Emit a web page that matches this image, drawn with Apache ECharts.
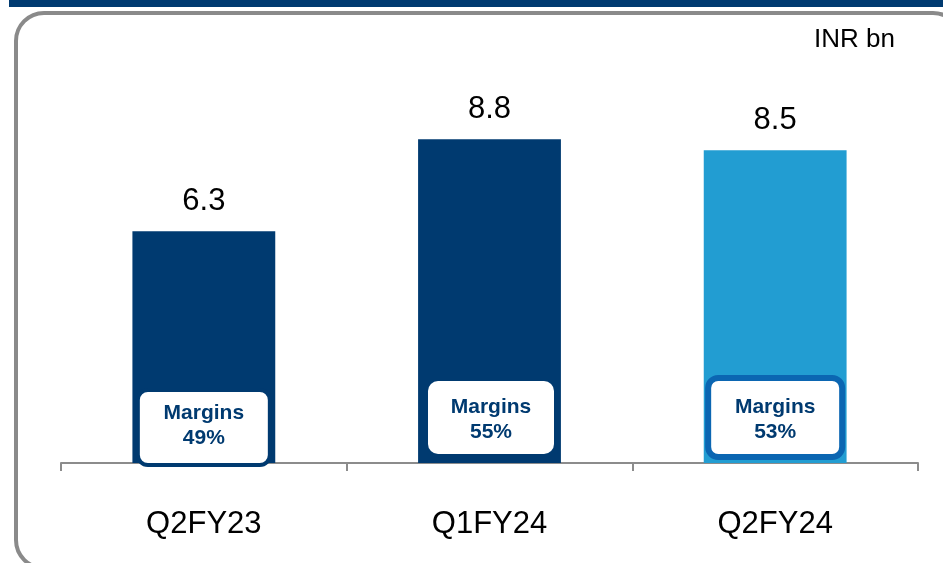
<!DOCTYPE html>
<html>
<head>
<meta charset="utf-8">
<script src="https://cdn.jsdelivr.net/npm/echarts@6/dist/echarts.min.js"></script>
<style>
  html, body { margin: 0; padding: 0; background: #fff; }
  #main { width: 943px; height: 563px; }
</style>
</head>
<body>
<div id="main"></div>
<script>
var categories = ['Q2FY23', 'Q1FY24', 'Q2FY24'];
var revenue = [6.3, 8.8, 8.5];
var margins = [49, 55, 53];

var NAVY = '#003a70';
var LIGHT = '#229dd2';
var FONT = 'Liberation Sans, Arial, sans-serif';

// look of the margin boxes, one per bar
var boxLook = [
  { dx: 0,   w: 132, h: 75, top: -73, lw: 4, stroke: NAVY,      t1: -50, t2: -25 },
  { dx: 1.5, w: 126, h: 73, top: -82, lw: 0, stroke: null,      t1: -56, t2: -31 },
  { dx: 0,   w: 134, h: 79, top: -85, lw: 6, stroke: '#0b66b2', t1: -56, t2: -31 }
];

var chart = echarts.init(document.getElementById('main'));

chart.setOption({
  animation: false,
  grid: { left: 61, right: 25, top: 95, bottom: 100 },
  xAxis: {
    type: 'category',
    data: categories,
    axisLine: { lineStyle: { color: '#8c8c8c', width: 2 } },
    axisTick: { show: true, length: 8, lineStyle: { color: '#8c8c8c', width: 2 } },
    axisLabel: { color: '#000', fontSize: 31, fontFamily: FONT, margin: 46 }
  },
  yAxis: { type: 'value', min: 0, max: 10, show: false, splitLine: { show: false } },
  graphic: [
    { type: 'rect', shape: { x: 9, y: 0, width: 940, height: 7 }, style: { fill: NAVY } },
    { type: 'rect', z: -1, shape: { x: 16, y: 13, width: 945, height: 555, r: 28 },
      style: { fill: 'none', stroke: '#8a8a8a', lineWidth: 4 } },
    { type: 'text', x: 895, y: 40,
      style: { text: 'INR bn', fill: '#000', font: '26px ' + FONT, align: 'right', verticalAlign: 'middle' } }
  ],
  series: [
    {
      type: 'bar',
      barWidth: '50%',
      data: revenue.map(function (v, i) {
        return { value: v, itemStyle: { color: i === 2 ? LIGHT : NAVY } };
      }),
      label: {
        show: true, position: 'top', distance: 14,
        color: '#000', fontSize: 31, fontFamily: FONT
      }
    },
    {
      type: 'custom',
      z: 5,
      data: margins.map(function (m, i) { return [i, m]; }),
      renderItem: function (params, api) {
        var i = params.dataIndex;
        var b = boxLook[i];
        var p = api.coord([api.value(0), 0]);
        var cx = p[0] + b.dx;
        return {
          type: 'group',
          children: [
            {
              type: 'rect',
              shape: { x: cx - b.w / 2, y: p[1] + b.top, width: b.w, height: b.h, r: 10 },
              style: { fill: '#fff', stroke: b.stroke, lineWidth: b.lw }
            },
            {
              type: 'text', x: cx, y: p[1] + b.t1,
              style: { text: 'Margins', fill: NAVY, font: 'bold 21px ' + FONT, align: 'center', verticalAlign: 'middle' }
            },
            {
              type: 'text', x: cx, y: p[1] + b.t2,
              style: { text: api.value(1) + '%', fill: NAVY, font: 'bold 21px ' + FONT, align: 'center', verticalAlign: 'middle' }
            }
          ]
        };
      }
    }
  ]
});
</script>
</body>
</html>
